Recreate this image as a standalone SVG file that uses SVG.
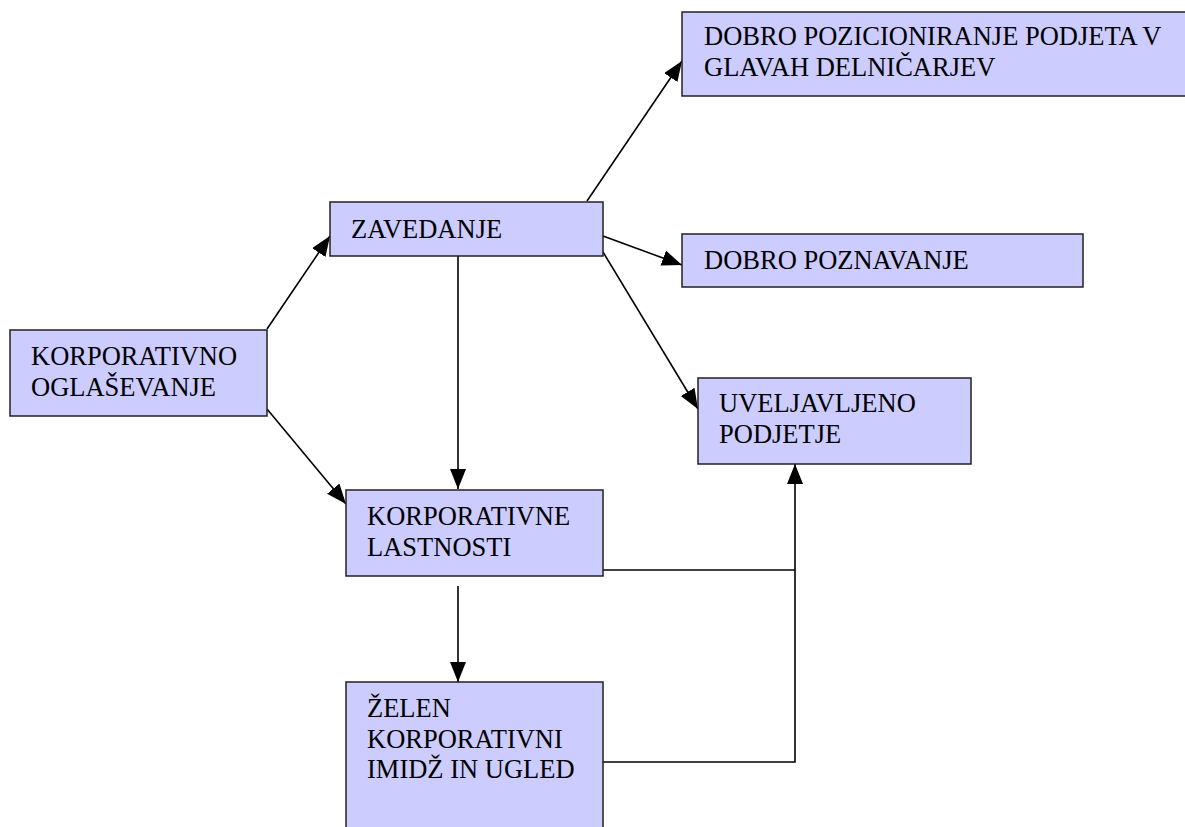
<svg xmlns="http://www.w3.org/2000/svg" width="1185" height="827" viewBox="0 0 1185 827">
<style>
.box{fill:#CCCCFF;stroke:#222;stroke-width:1.5}
.t{font-family:"Liberation Serif","Times New Roman",serif;font-size:26.5px;fill:#000}
.c{fill:none;stroke:#000;stroke-width:1.6}
</style>
<defs>
<marker id="ah" markerUnits="userSpaceOnUse" markerWidth="22" markerHeight="18" refX="20" refY="8" orient="auto">
<path d="M0,0 L20,8 L0,16 Z" fill="#000"/>
</marker>
</defs>
<rect width="1185" height="827" fill="#fff"/>
<g id="connectors">
<line class="c" x1="267" y1="329" x2="330" y2="236" marker-end="url(#ah)"/>
<line class="c" x1="267" y1="409" x2="346" y2="504" marker-end="url(#ah)"/>
<line class="c" x1="458" y1="250" x2="458" y2="489" marker-end="url(#ah)"/>
<line class="c" x1="587" y1="201" x2="682" y2="61" marker-end="url(#ah)"/>
<line class="c" x1="603" y1="236" x2="682" y2="265" marker-end="url(#ah)"/>
<line class="c" x1="603" y1="252" x2="698" y2="409" marker-end="url(#ah)"/>
<line class="c" x1="458" y1="586" x2="458" y2="682" marker-end="url(#ah)"/>
<polyline class="c" points="603,570 795,570"/>
<polyline class="c" points="603,762 795,762 795,464" marker-end="url(#ah)"/>
</g>
<g id="n-pozicioniranje">
<rect class="box" x="682" y="12" width="510" height="84"/>
<text class="t" x="704" y="45">DOBRO POZICIONIRANJE PODJETA V</text>
<text class="t" x="704" y="76">GLAVAH DELNIČARJEV</text>
</g>
<g id="n-zavedanje">
<rect class="box" x="330" y="202" width="273" height="54"/>
<text class="t" x="351" y="238">ZAVEDANJE</text>
</g>
<g id="n-poznavanje">
<rect class="box" x="682" y="234" width="401" height="53"/>
<text class="t" x="704" y="269">DOBRO POZNAVANJE</text>
</g>
<g id="n-oglasevanje">
<rect class="box" x="10" y="330" width="257" height="86"/>
<text class="t" x="31" y="365">KORPORATIVNO</text>
<text class="t" x="31" y="396">OGLAŠEVANJE</text>
</g>
<g id="n-uveljavljeno">
<rect class="box" x="698" y="378" width="273" height="86"/>
<text class="t" x="719" y="412">UVELJAVLJENO</text>
<text class="t" x="719" y="443">PODJETJE</text>
</g>
<g id="n-lastnosti">
<rect class="box" x="346" y="490" width="257" height="86"/>
<text class="t" x="367" y="525">KORPORATIVNE</text>
<text class="t" x="367" y="556">LASTNOSTI</text>
</g>
<g id="n-imidz">
<rect class="box" x="346" y="682" width="257" height="160"/>
<text class="t" x="367" y="717">ŽELEN</text>
<text class="t" x="367" y="748">KORPORATIVNI</text>
<text class="t" x="367" y="778">IMIDŽ IN UGLED</text>
</g>
</svg>
